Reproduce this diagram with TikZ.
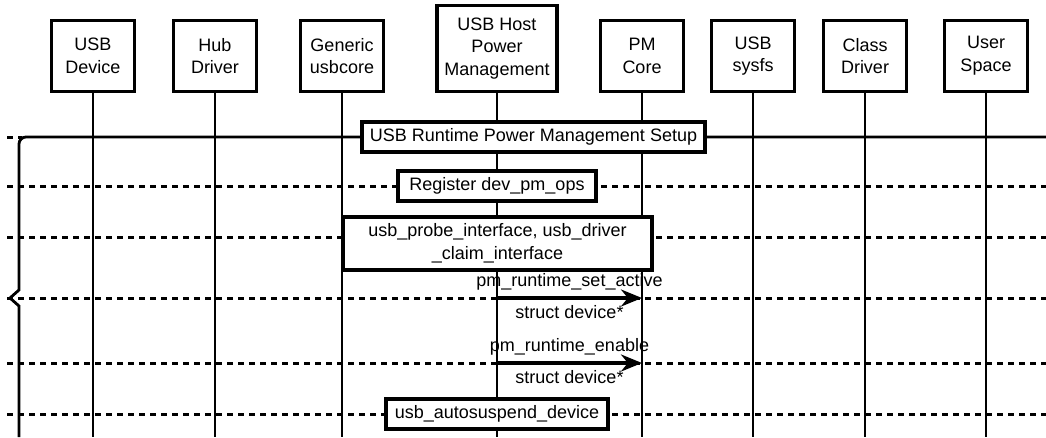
\documentclass[tikz,border=0pt]{standalone}
\usepackage{fontspec}
\setmainfont{Liberation Sans}
\usetikzlibrary{arrows.meta,positioning}
\begin{document}
\begin{tikzpicture}[x=1pt,y=-1pt,every node/.style={font=\fontsize{18}{22.5}\selectfont},
  head/.style={draw,line width=3.2pt,fill=white,align=center,minimum width=83pt,minimum height=71pt,inner sep=0pt,anchor=south},
  stepbox/.style={draw,line width=3.2pt,fill=white,align=center,inner sep=0pt,minimum height=30pt},
  life/.style={line width=2.4pt}, sep/.style={line width=3pt,dash pattern=on 6pt off 5pt},
  call/.style={line width=3.2pt,-{Stealth[length=21pt,width=17pt]}}]
\useasboundingbox (0,0) rectangle (1046,437);
\coordinate (bot) at (0,437);
% heads
\node[head] (dev) at (93,93) {USB\\Device}; \node[head] (hub) at (215,93) {Hub\\Driver};
\node[head] (core) at (342,93) {Generic\\usbcore};
\node[head,minimum width=120pt,minimum height=86pt] (host) at (497,93) {USB Host\\Power\\Management};
\node[head] (pmc) at (642,93) {PM\\Core}; \node[head] (sysfs) at (753,93) {USB\\sysfs};
\node[head] (cls) at (865,93) {Class\\Driver}; \node[head] (user) at (986,93) {User\\Space};
% rows
\foreach \y in {186,237,298,363,414} \draw[sep] (7,\y) -- (1046,\y);
\draw[sep] (7,137) -- (22,137);
\draw[line width=2.8pt] (1046,137) [rounded corners=7pt] -- (19,137) [sharp corners] -- (19,290) -- (10,298) -- (19,306) -- (19,437);
\foreach \n in {dev,hub,core,host,pmc,sysfs,cls,user} \draw[life] (\n.south) -- (\n.south |- bot);
% steps
\node[stepbox,minimum width=343pt] (setup) at (533.5,137) {USB Runtime Power Management Setup};
\node[stepbox,minimum width=198pt] (reg) at (497,186) {Register dev\_pm\_ops};
\node[stepbox,minimum width=309pt,minimum height=53pt] (probe) at (497.5,243.5) {usb\_probe\_interface, usb\_driver\\\_claim\_interface};
\node[stepbox,minimum width=222pt] (auto) at (497,414) {usb\_autosuspend\_device};
% calls
\coordinate (m1) at (0,298); \coordinate (m2) at (0,363);
\draw[call] (host |- m1) -- (pmc |- m1) node[midway,above=3pt]{pm\_runtime\_set\_active} node[midway,below=3pt]{struct device*};
\draw[call] (host |- m2) -- (pmc |- m2) node[midway,above=3pt]{pm\_runtime\_enable} node[midway,below=3pt]{struct device*};
\end{tikzpicture}
\end{document}
